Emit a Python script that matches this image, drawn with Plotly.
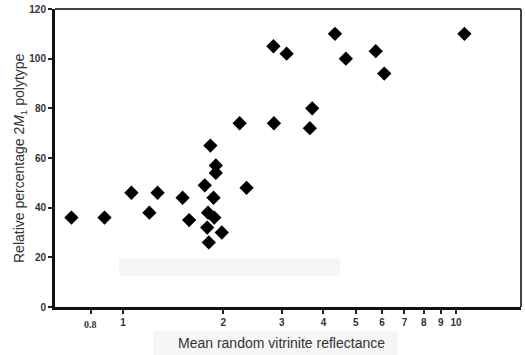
import math
import plotly.graph_objects as go

# Mean random vitrinite reflectance (x) vs relative percentage 2M1 polytype (y)
reflectance = [0.70, 0.88, 1.06, 1.27, 1.20, 1.51, 1.58, 1.76, 1.83, 1.90,
               1.90, 2.24, 2.35, 1.87, 1.80, 1.88, 1.79, 1.98, 1.81, 2.83,
               3.10, 4.33, 4.67, 5.74, 6.09, 3.70, 2.84, 3.64, 10.6]
percent_2m1 = [36, 36, 46, 46, 38, 44, 35, 49, 65, 57,
               54, 74, 48, 44, 38, 36, 32, 30, 26, 105,
               102, 110, 100, 103, 94, 80, 74, 72, 110]

x_tickvals = [0.8, 1, 2, 3, 4, 5, 6, 7, 8, 9, 10]
x_ticktext = ["", "1", "2", "3", "4", "5", "6", "7", "8", "9", "10"]
serif_tick = 0.8  # this tick label is printed in a serif face in the source
y_tickvals = [0, 20, 40, 60, 80, 100, 120]

W, H = 525, 355
L, R, T, B = 55, 4, 9, 48
PW, PH = W - L - R, H - T - B


def px(xp):
    return (xp - L) / PW


def py(yp):
    return (H - B - yp) / PH


fig = go.Figure()
fig.add_trace(go.Scatter(
    x=reflectance, y=percent_2m1, mode="markers",
    marker=dict(symbol="diamond", size=11, color="black"),
    hoverinfo="skip", showlegend=False))

tick_font = dict(family="Liberation Sans, Arial", size=10, color="#333", weight="bold")

fig.update_layout(
    width=W, height=H,
    margin=dict(l=L, r=R, t=T, b=B, autoexpand=False),
    paper_bgcolor="white", plot_bgcolor="white",
    xaxis=dict(type="log", range=[-0.2042, 1.1952],
               tickvals=x_tickvals, ticktext=x_ticktext,
               ticks="outside", ticklen=4, tickwidth=2, tickcolor="#222",
               showline=True, linewidth=3, linecolor="#111",
               showgrid=False, zeroline=False, tickfont=tick_font),
    yaxis=dict(range=[0, 120], tickvals=y_tickvals,
               ticks="outside", ticklen=4, tickwidth=2, tickcolor="#222",
               showline=True, linewidth=3, linecolor="#111",
               showgrid=False, zeroline=False, tickfont=tick_font),
    shapes=[
        # faint scan artefacts
        dict(type="rect", xref="paper", yref="paper",
             x0=px(119), x1=px(340), y0=py(276), y1=py(258),
             fillcolor="#f6f6f6", line=dict(width=0), layer="below"),
        dict(type="rect", xref="paper", yref="paper",
             x0=px(153), x1=px(398), y0=py(355), y1=py(331),
             fillcolor="#f6f6f6", line=dict(width=0), layer="below"),
        # top and right frame lines
        dict(type="line", xref="paper", yref="paper", x0=0, x1=1, y0=1, y1=1,
             line=dict(color="#444", width=2)),
        dict(type="line", xref="paper", yref="paper", x0=1, x1=1, y0=0, y1=1,
             line=dict(color="#444", width=2)),
    ],
    annotations=[
        dict(text=str(serif_tick), xref="x", yref="paper",
             x=math.log10(serif_tick), y=py(324),
             showarrow=False, xanchor="center", yanchor="middle",
             font=dict(family="Liberation Serif", size=10, color="#333", weight="bold")),
        dict(text="Mean random vitrinite reflectance", xref="paper", yref="paper",
             x=px(281), y=py(343),
             showarrow=False, xanchor="center", yanchor="middle",
             font=dict(family="Liberation Sans, Arial", size=14, color="#333")),
        dict(text="Relative percentage 2<i>M</i><sub>1</sub> polytype",
             xref="paper", yref="paper",
             x=px(20), y=py(158), textangle=-90,
             showarrow=False, xanchor="center", yanchor="middle",
             font=dict(family="Liberation Sans, Arial", size=14, color="#333")),
    ],
)

fig.write_html("out.html", config={"displayModeBar": False},
               post_script="document.body.style.margin='0px';")
